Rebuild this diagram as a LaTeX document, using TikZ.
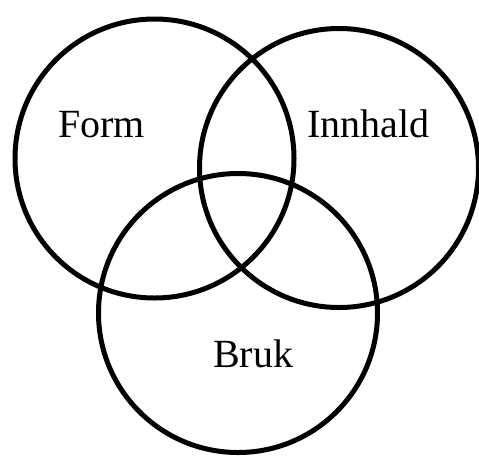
\documentclass[tikz,border=0pt]{standalone}
\usepackage{fontspec}
\setmainfont{Liberation Serif}
\begin{document}
\begin{tikzpicture}[x=1pt,y=-1pt,
  ring/.style={circle,draw=black,line width=5pt,inner sep=0pt,minimum size=279pt},
  lab/.style={anchor=base west,inner sep=0pt,font=\fontsize{40}{48}\selectfont}]
\useasboundingbox (0,0) rectangle (479,456);
\node[ring] (form) at (154.5,158.5) {};
\node[ring] (innhald) at (339,168) {};
\node[ring] (bruk) at (238,313) {};
\node[lab] (tform) at (58,137) {Form};
\node[lab] (tinnhald) at (307,137) {Innhald};
\node[lab] (tbruk) at (213,367) {Bruk};
\end{tikzpicture}
\end{document}
